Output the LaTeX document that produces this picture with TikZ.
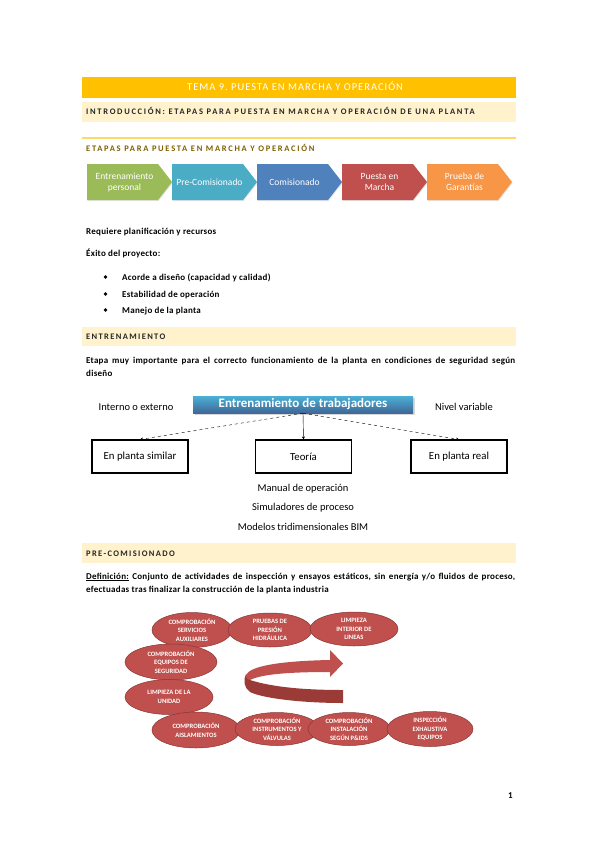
\documentclass[tikz,border=0pt]{standalone}
\usepackage{fontspec}
\setmainfont{Carlito}
\newfontfamily\espaciada[LetterSpace=20]{Carlito}
\newfontfamily\textofont[LetterSpace=3]{Carlito}
\usetikzlibrary{shapes.geometric,arrows.meta,shadows}

\definecolor{amarillo}{HTML}{FFC000}
\definecolor{crema}{HTML}{FFF2CC}
\definecolor{dorado}{HTML}{FFD966}
\definecolor{ocre}{HTML}{7F6000}
\definecolor{texto}{HTML}{262626}
\definecolor{verde}{HTML}{9BBB59}
\definecolor{celeste}{HTML}{4BACC6}
\definecolor{azul}{HTML}{4F81BD}
\definecolor{rojo}{HTML}{C0504D}
\definecolor{naranja}{HTML}{F79646}
\definecolor{granate}{HTML}{9A3B38}

\begin{document}
\frenchspacing
\begin{tikzpicture}[x=1pt,y=-1pt,
    barra/.style={fill=crema},
    titulo/.style={anchor=base west,inner sep=0pt,text=texto,font=\fontsize{8.5}{10}\selectfont\espaciada\bfseries},
    seccion/.style={titulo,font=\fontsize{8.5}{10}\selectfont\bfseries\addfontfeature{LetterSpace=16}},
    cuerpo/.style={anchor=base west,inner sep=0pt,text=black,font=\fontsize{9}{11}\selectfont\textofont\bfseries},
    fase/.style={text=white,align=center,font=\fontsize{9.5}{11}\selectfont},
    caja/.style={draw,line width=1.1pt,minimum width=96pt,minimum height=33pt,font=\fontsize{10.8}{12}\selectfont},
    nota/.style={font=\fontsize{10.5}{12}\selectfont},
    ovalo/.style={ellipse,fill=rojo,draw=rojo!70!black,line width=.5pt,text=white,align=center,inner sep=0pt,font=\fontsize{6.6}{8.5}\selectfont\bfseries}]
        % Pagina
        \fill[white] (0,0) rectangle (599,848);
        \useasboundingbox (0,0) rectangle (599,848);

        % Cabeceras
        \fill[amarillo] (82,77) rectangle (516,98);
        \node[anchor=base west,inner sep=0pt,text=white,font=\fontsize{10.5}{12}\selectfont\addfontfeature{LetterSpace=9.5}] (tema) at (187,91) {TEMA 9. PUESTA EN MARCHA Y OPERACIÓN};
        \fill[barra] (82,102) rectangle (516,122);
        \node[titulo] (intro) at (86,115) {INTRODUCCIÓN: ETAPAS PARA PUESTA EN MARCHA Y OPERACIÓN DE UNA PLANTA};
        \draw[dorado,line width=1.2pt] (82,138) -- (516,138);
        \node[titulo,text=ocre] (etapas) at (86,151) {ETAPAS PARA PUESTA EN MARCHA Y OPERACIÓN};

        % Etapas
        \def\w{85}
        \def\p{14}
        \foreach \x/\col/\txt [count=\i] in {87/verde/{Entrenamiento\\personal},172/celeste/{Pre-Comisionado},257/azul/{Comisionado},342/rojo/{Puesta en\\Marcha},427/naranja/{Prueba de\\Garantías}}{
            \fill[\col,drop shadow={opacity=.2,shadow xshift=.5pt,shadow yshift=-1.2pt}] (\x,164) -- (\x+\w-\p,164) -- (\x+\w,182) -- (\x+\w-\p,200) -- (\x,200) -- cycle;
            \node[fase] (fase\i) at (\x+\w/2-5,182) {\txt};
        }

        % Texto
        \node[cuerpo] (req) at (86,234) {Requiere planificación y recursos};
        \node[cuerpo] (exito) at (86,256) {Éxito del proyecto:};
        \foreach \y/\txt [count=\i] in {280/{Acorde a diseño (capacidad y calidad)},297/{Estabilidad de operación},313/{Manejo de la planta}}{
            \fill (105.5,\y-3) circle (1.8);
            \node[cuerpo] (punto\i) at (122,\y) {\txt};
        }

        % Entrenamiento
        \fill[barra] (82,327) rectangle (516,346);
        \node[seccion] (entren) at (86,339.5) {ENTRENAMIENTO};
        \node[cuerpo] (etapa1) at (86,363) {\makebox[429pt][s]{Etapa muy importante para el correcto funcionamiento de la planta en condiciones de seguridad según}};
        \node[cuerpo] (etapa2) at (86,376) {diseño};

        \node[text=white,font=\fontsize{13}{15}\selectfont\bfseries,top color=azul!70!cyan!90!white,bottom color=azul!80!black,minimum width=220pt,minimum height=17pt,inner sep=0pt,drop shadow={opacity=.3}] (trab) at (303,404.5) {Entrenamiento de trabajadores};
        \node[nota] (interno) at (136,407) {Interno o externo};
        \node[nota] (nivel) at (464,407) {Nivel variable};
        \node[caja] (similar) at (140,456.5) {En planta similar};
        \node[caja] (teoria) at (303.5,456.5) {Teoría};
        \node[caja] (real) at (459,456.5) {En planta real};
        \draw[-{Stealth[length=3pt,width=3pt]}] (trab.south) -- (teoria.north);
        \draw[dashed,-{Stealth[length=3pt,width=3pt]}] (trab.south) -- (similar.north);
        \draw[dashed,-{Stealth[length=3pt,width=3pt]}] (trab.south) -- (real.north);
        \node[nota] (manual) at (303,489) {Manual de operación};
        \node[nota] (simul) at (303,508) {Simuladores de proceso};
        \node[nota] (bim) at (303,527) {Modelos tridimensionales BIM};

        % Pre-comisionado
        \fill[barra] (82,543) rectangle (516,563);
        \node[seccion] (precom) at (86,556) {PRE-COMISIONADO};
        \node[cuerpo] (def1) at (86,579) {\makebox[429pt][s]{\underline{Definición:} Conjunto de actividades de inspección y ensayos estáticos, sin energía y/o fluidos de proceso,}};
        \node[cuerpo] (def2) at (86,592) {efectuadas tras finalizar la construcción de la planta industria};

        % Flecha curva
        \fill[granate] (250,680) .. controls (275,688) and (310,690) .. (343,690) -- (343,703) .. controls (300,703) and (262,698) .. (250,692) .. controls (244,688) and (243,680) .. (246,674) -- cycle;
        \fill[rojo] (246,675) .. controls (250,666) and (280,661) .. (330,660) -- (330,650) -- (343,663.5) -- (330,677) -- (330,672) .. controls (290,672) and (262,674) .. (250,680) .. controls (247,679) and (245,677) .. (246,675) -- cycle;

        % Actividades
        \node[ovalo,minimum width=80pt,minimum height=35pt] (servicios) at (192,630) {COMPROBACIÓN\\SERVICIOS\\AUXILIARES};
        \node[ovalo,minimum width=84pt,minimum height=34pt] (presion) at (270,630) {PRUEBAS DE\\PRESIÓN\\HIDRÁULICA};
        \node[ovalo,minimum width=88pt,minimum height=34pt] (lineas) at (354,629) {LIMPIEZA\\INTERIOR DE\\LINEAS};
        \node[ovalo,minimum width=92pt,minimum height=36pt] (seguridad) at (171,662) {COMPROBACIÓN\\EQUIPOS DE\\SEGURIDAD};
        \node[ovalo,minimum width=88pt,minimum height=35pt] (unidad) at (169,697) {LIMPIEZA DE LA\\UNIDAD};
        \node[ovalo,minimum width=88pt,minimum height=36pt] (aislam) at (196,730) {COMPROBACIÓN\\AISLAMIENTOS};
        \node[ovalo,minimum width=84pt,minimum height=33pt] (valvulas) at (277,729) {COMPROBACIÓN\\INSTRUMENTOS Y\\VÁLVULAS};
        \node[ovalo,minimum width=82pt,minimum height=33pt] (pids) at (349,729) {COMPROBACIÓN\\INSTALACIÓN\\SEGÚN P\&IDS};
        \node[ovalo,minimum width=86pt,minimum height=35pt] (equipos) at (430,729) {INSPECCIÓN\\EXHAUSTIVA\\EQUIPOS};

        \node[cuerpo] (pagina) at (508,798) {1};
\end{tikzpicture}
\end{document}
